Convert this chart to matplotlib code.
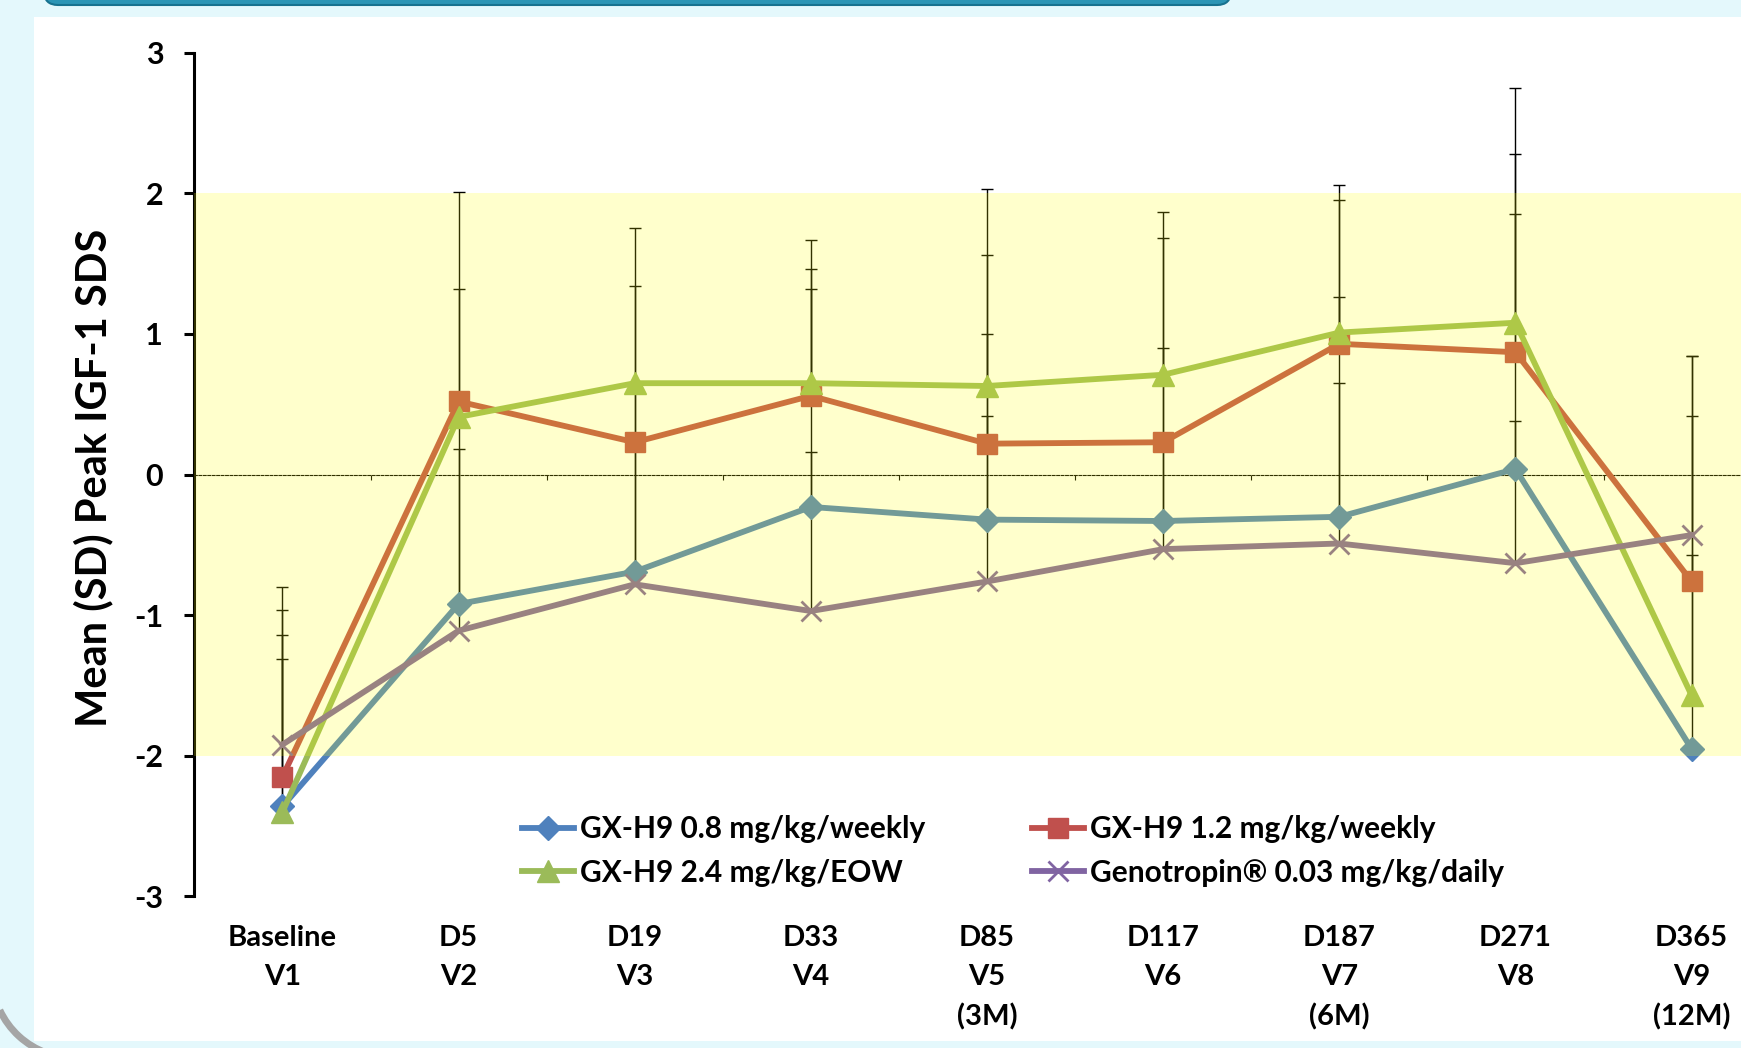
import numpy as np
import matplotlib
matplotlib.use("Agg")
import matplotlib.pyplot as plt
from matplotlib.patches import Rectangle, FancyBboxPatch, Arc
from matplotlib.transforms import IdentityTransform

# ---------------- data ----------------
categories = ["Baseline\nV1", "D5\nV2", "D19\nV3", "D33\nV4", "D85\nV5\n(3M)",
              "D117\nV6", "D187\nV7\n(6M)", "D271\nV8", "D365\nV9\n(12M)"]

series_names = ["GX-H9 0.8 mg/kg/weekly", "GX-H9 1.2 mg/kg/weekly",
                "GX-H9 2.4 mg/kg/EOW", "Genotropin\u00ae 0.03 mg/kg/daily"]

mean_08 = [-2.36, -0.92, -0.69, -0.23, -0.32, -0.33, -0.30, 0.04, -1.95]
mean_12 = [-2.15, 0.52, 0.23, 0.56, 0.22, 0.23, 0.93, 0.87, -0.76]
mean_24 = [-2.40, 0.41, 0.65, 0.65, 0.63, 0.71, 1.01, 1.08, -1.57]
mean_gen = [-1.92, -1.11, -0.78, -0.97, -0.76, -0.53, -0.49, -0.63, -0.43]

sd_08 = [1.22, 1.10, 0.92, 1.55, 1.32, 1.23, 1.56, 1.81, 1.38]
sd_12 = [1.19, 0.80, 1.11, 0.90, 1.34, 1.45, 1.02, 1.41, 1.60]
sd_24 = [1.09, 1.60, 1.10, 1.02, 1.40, 1.16, 1.05, 1.67, 1.99]
sd_gen = [1.12, 1.61, 1.38, 1.13, 1.18, 0.76, 1.14, 1.01, 1.27]

normal_low, normal_high = -2, 2
y_ticks = [-3, -2, -1, 0, 1, 2, 3]

# ---------------- style ----------------
plt.rcParams["font.family"] = ["Lato", "DejaVu Sans"]
plt.rcParams["font.weight"] = "bold"

W, H = 1741, 1048
fig = plt.figure(figsize=(W / 100, H / 100), dpi=100)
fig.patch.set_facecolor("#E4F8FC")


def fx(px):
    return px / W


def fy(py):
    return 1 - py / H


# white slide panel
fig.patches.append(Rectangle((fx(34), fy(1041)), 1.0, fy(17) - fy(1041),
                             transform=fig.transFigure, facecolor="white",
                             edgecolor="none", zorder=-2))
# title box bottom edge at top
fig.patches.append(FancyBboxPatch((44, H - 5), 1187, 80,
                                  boxstyle="round,pad=0,rounding_size=14",
                                  transform=IdentityTransform(),
                                  facecolor="#2C95B5", edgecolor="#17728F",
                                  linewidth=1.5, zorder=-1))
# grey corner shadow bottom-left
fig.patches.append(Arc((75, 73), 166, 166, theta1=205, theta2=250,
                       transform=IdentityTransform(), color="#A5A5A5",
                       linewidth=5, zorder=-1))

ax = fig.add_axes([fx(194), fy(896.5), 1 - fx(194), (896.5 - 52.7) / H])
ax.set_zorder(1)
ax.set_facecolor("white")
x = np.arange(len(categories))
ax.set_xlim(-0.502, -0.502 + (W - 194) / 176.15)
ax.set_ylim(y_ticks[0], y_ticks[-1])

colors = ["#4F81BD", "#C0504D", "#9BBB59", "#8064A2"]
markers = ["D", "s", "^", "x"]
msizes = [12.5, 14.5, 16.5, 14]
means = [mean_08, mean_12, mean_24, mean_gen]
sds = [sd_08, sd_12, sd_24, sd_gen]

# plus-only error bars
for m, sd in zip(means, sds):
    m = np.asarray(m)
    eb = ax.errorbar(x, m, yerr=[np.zeros(len(m)), sd], fmt="none",
                     ecolor="black", elinewidth=1.0, capsize=4.6,
                     capthick=1.0, zorder=2)
    for cl in eb[1]:
        if np.allclose(cl.get_ydata(), m):
            cl.set_visible(False)

handles = []
for m, c, mk, ms, name in zip(means, colors, markers, msizes, series_names):
    (h,) = ax.plot(x, m, color=c, lw=4.2, marker=mk, ms=ms, mfc=c, mec=c,
                   mew=2.0 if mk == "x" else 1.0, label=name, zorder=3,
                   solid_joinstyle="round")
    handles.append(h)

# normal range band (semi-transparent yellow over everything)
ax.axhspan(normal_low, normal_high, color="#FFFF00", alpha=0.2, lw=0, zorder=4)

# axes styling
for s in ["top", "right"]:
    ax.spines[s].set_visible(False)
ax.spines["left"].set_linewidth(2.2)
ax.spines["left"].set_color("black")
ax.spines["bottom"].set_position(("data", 0))
ax.spines["bottom"].set_linewidth(0.8)
ax.spines["bottom"].set_linestyle((0, (2.5, 1.5)))

ax.set_yticks(y_ticks)
ax.set_yticklabels([str(t) for t in y_ticks])
ax.tick_params(axis="y", direction="out", length=7.2, width=2.2, pad=15,
               labelsize=22)
ax.set_xticks(x[:-1] + 0.5)
ax.tick_params(axis="x", direction="out", length=3.5, width=0.8,
               labelbottom=False)

for xi, lab in zip(x, categories):
    ax.text(xi, -0.034, lab, transform=ax.get_xaxis_transform(), ha="center",
            va="top", fontsize=21, fontweight="bold", linespacing=1.6)

fig.text(fx(93), fy(477.5), "Mean (SD) Peak IGF-1 SDS", rotation=90,
         ha="center", va="center", fontsize=30, fontweight="bold")

leg_kw = dict(loc="upper left", frameon=False,
              prop={"size": 21.5, "weight": "bold"}, handlelength=1.75,
              handletextpad=0.2, labelspacing=0.52, borderpad=0,
              borderaxespad=0)
leg1 = fig.legend([handles[0], handles[2]], [series_names[0], series_names[2]],
                  bbox_to_anchor=(fx(522), fy(815)), **leg_kw)
leg2 = fig.legend([handles[1], handles[3]], [series_names[1], series_names[3]],
                  bbox_to_anchor=(fx(1032), fy(815)), **leg_kw)
leg1.set_zorder(6)
leg2.set_zorder(6)

fig.savefig("out.png", dpi=100, facecolor=fig.get_facecolor())
